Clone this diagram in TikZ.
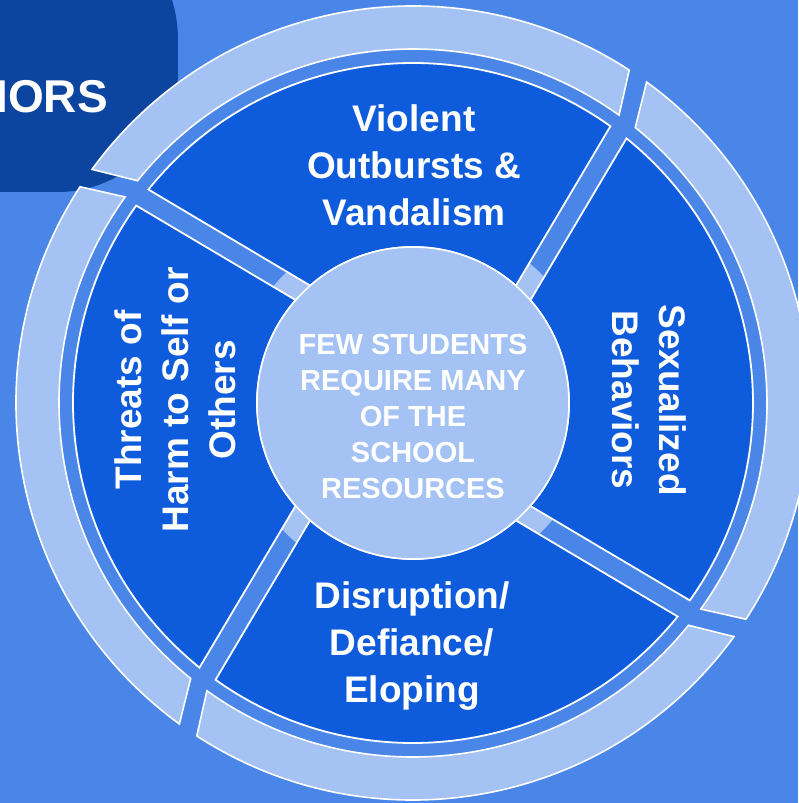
\documentclass[tikz,border=0pt]{standalone}
\usepackage{fontspec}
\setmainfont{Liberation Sans}
\definecolor{bgblue}{HTML}{4A86E8}
\definecolor{lightblue}{HTML}{A4C2F4}
\definecolor{wedgeblue}{HTML}{0E5CDB}
\definecolor{blobblue}{HTML}{0C45A0}

\begin{document}
\begin{tikzpicture}[x=1pt,y=1pt,
  wedge/.style={fill=wedgeblue,draw=white,line width=1.8pt},
  ringseg/.style={fill=lightblue,draw=white,line width=1.6pt},
  lbl/.style={text=white,font=\bfseries\fontsize{37}{47}\selectfont,align=center,inner sep=0pt},
  hubtxt/.style={text=white,font=\bfseries\fontsize{29}{36}\selectfont,align=center,inner sep=0pt}]
\useasboundingbox (-413,-400) rectangle (385,403);
% background
\fill[bgblue] (-413,-400) rectangle (385,403);
% title tab in the corner
\fill[blobblue] (-430,499) -- (-371,499) arc[start angle=90,end angle=0,radius=136]
  -- (-235,331) arc[start angle=0,end angle=-90,radius=120] -- (-430,211) -- cycle;
\node[anchor=base east,text=white,font=\bfseries\fontsize{46}{50}\selectfont,inner sep=0pt]
  (title) at (-305,290) {BEHAVIORS};
% light halo behind the spokes
\fill[lightblue] (0,0) circle[radius=182];
% four behaviour sectors
\foreach \t in {45,135,225,315}{
  \path[wedge] ({\t+3.74}:156) -- ({\t+9.5}:340)
    arc[start angle=\t+9.5,end angle=\t+96.1,radius=340]
    -- ({\t+86.2}:156)
    arc[start angle=\t+86.2,end angle=\t+3.74,radius=156] -- cycle;
}
% outer ring pieces
\foreach \t in {45,135,225,315}{
  \path[ringseg] ({\t+12}:397)
    arc[start angle=\t+12,end angle=\t+98.95,radius=397]
    -- ({\t+96.1}:354)
    arc[start angle=\t+96.1,end angle=\t+9.4,radius=354] -- cycle;
}
% hub
\node[circle,fill=lightblue,draw=white,line width=1.6pt,minimum size=312pt,inner sep=0pt] (hub) at (0,0) {};
\node[hubtxt] (hubtext) at (0,-14) {FEW STUDENTS\\REQUIRE MANY\\OF THE\\SCHOOL\\RESOURCES};
% sector labels
\node[lbl] (violent) at (1,238) {Violent\\Outbursts \&\\Vandalism};
\node[lbl,rotate=-90] (sexual) at (236,3) {Sexualized\\Behaviors};
\node[lbl,rotate=90] (threats) at (-238,3) {Threats of\\Harm to Self or\\Others};
\node[lbl] (disrupt) at (-1,-243) {Disruption/\\Defiance/\\Eloping};
\end{tikzpicture}
\end{document}
